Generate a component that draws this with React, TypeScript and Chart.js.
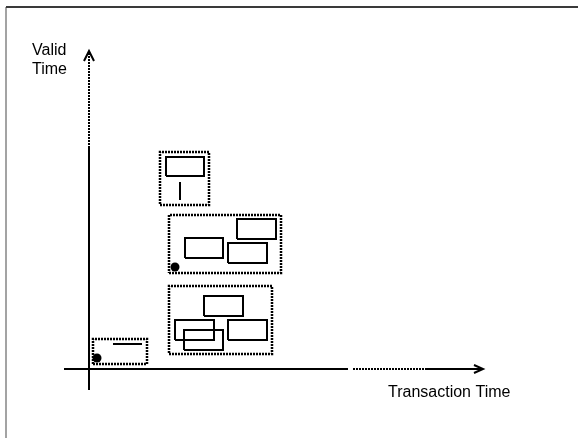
import React, { useEffect, useRef } from "react";
import { Chart, registerables } from "chart.js";

Chart.register(...registerables);

// Diagram coordinates: origin at the crossing of the two axes,
// x = transaction time, y = valid time.
const xRange = [-89, 489];
const yRange = [-69, 369];

// [x1, y1, x2, y2]
const dottedBoxes = [
  [71, 164, 120, 217],
  [80, 96, 192, 154],
  [80, 15, 183, 83],
  [4, 5, 58, 30],
];
const solidRects = [
  [77, 193, 115, 212],
  [148, 130, 187, 150],
  [96, 111, 134, 131],
  [139, 106, 178, 126],
  [115, 53, 154, 73],
  [86, 29, 125, 49],
  [95, 19, 134, 39],
  [139, 29, 178, 49],
];
const segments = [
  [91, 169, 91, 187],
  [24, 25, 53, 25],
];
const dots = [
  [86, 102],
  [8, 11],
];
const axisSolid = [
  [0, -21, 0, 223],
  [-25, 0, 259, 0],
  [337, 0, 394, 0],
];
const axisDotted = [
  [0, 224, 0, 316],
  [264, 0, 337, 0],
];
const arrowHeads = [
  [[-5, 308], [0, 318], [5, 308]],
  [[385, 4], [394, 0], [385, -4]],
];
const frameTop = [[-83, 362], [489, 362]];
const frameLeft = [[-83, 362], [-83, -69]];
const axisLabels = ["Valid", "Time", "Transaction Time"];
const labelAnchors = [
  [-57, 314],
  [-57, 295],
  [299, -28],
];

const rectPoints = (r: number[]) => [
  { x: r[0], y: r[1] },
  { x: r[2], y: r[1] },
  { x: r[2], y: r[3] },
  { x: r[0], y: r[3] },
  { x: r[0], y: r[1] },
];
const segPoints = (s: number[]) => [
  { x: s[0], y: s[1] },
  { x: s[2], y: s[3] },
];

const lineDs = (data: any[], extra: any = {}) => ({
  data,
  showLine: true,
  pointRadius: 0,
  pointHoverRadius: 0,
  borderColor: "#000",
  borderWidth: 2,
  fill: false,
  tension: 0,
  ...extra,
});

export default function App() {
  const ref = useRef<HTMLCanvasElement | null>(null);

  useEffect(() => {
    document.body.style.margin = "0";
    const canvas = ref.current;
    if (!canvas) return;

    const datasets: any[] = [];
    datasets.push(lineDs(frameTop, { borderColor: "#3a3a3a", borderWidth: 2 }));
    datasets.push(lineDs(frameLeft, { borderColor: "#858585", borderWidth: 1.5 }));
    axisSolid.forEach((s) => datasets.push(lineDs(segPoints(s))));
    axisDotted.forEach((s) =>
      datasets.push(lineDs(segPoints(s), { borderDash: [2, 1], borderColor: "#000" }))
    );
    arrowHeads.forEach((a) =>
      datasets.push(lineDs(a.map((p) => ({ x: p[0], y: p[1] }))))
    );
    dottedBoxes.forEach((r) =>
      datasets.push(lineDs(rectPoints(r), { borderDash: [2, 1], borderColor: "#000", borderWidth: 2.5 }))
    );
    solidRects.forEach((r) => datasets.push(lineDs(rectPoints(r), { borderColor: "#000" })));
    segments.forEach((s) => datasets.push(lineDs(segPoints(s), { borderColor: "#000" })));
    datasets.push({
      data: dots.map((d) => ({ x: d[0], y: d[1] })),
      showLine: false,
      pointRadius: 4.5,
      pointHoverRadius: 4.5,
      pointBackgroundColor: "#000",
      pointBorderColor: "#000",
      pointBorderWidth: 0,
    });

    const labelPlugin = {
      id: "labels",
      afterDraw(chart: any) {
        const ctx = chart.ctx;
        const xs = chart.scales.x;
        const ys = chart.scales.y;
        ctx.save();
        ctx.fillStyle = "#000";
        ctx.font = "16px 'Liberation Sans', Arial, sans-serif";
        ctx.textAlign = "left";
        ctx.textBaseline = "alphabetic";
        axisLabels.forEach((t, i) => {
          const a = labelAnchors[i];
          ctx.fillText(t, xs.getPixelForValue(a[0]), ys.getPixelForValue(a[1]));
        });
        ctx.restore();
      },
    };

    const chart = new Chart(canvas, {
      type: "scatter",
      data: { datasets },
      options: {
        animation: false,
        responsive: false,
        events: [],
        layout: { padding: 0, autoPadding: false },
        plugins: { legend: { display: false }, tooltip: { enabled: false }, title: { display: false } },
        scales: {
          x: { type: "linear", min: xRange[0], max: xRange[1], display: false },
          y: { type: "linear", min: yRange[0], max: yRange[1], display: false },
        },
      },
      plugins: [labelPlugin],
    });
    return () => chart.destroy();
  }, []);

  return (
    <div style={{ width: 578, height: 438, background: "#fff" }}>
      <canvas ref={ref} width={578} height={438} style={{ display: "block" }} />
    </div>
  );
}
